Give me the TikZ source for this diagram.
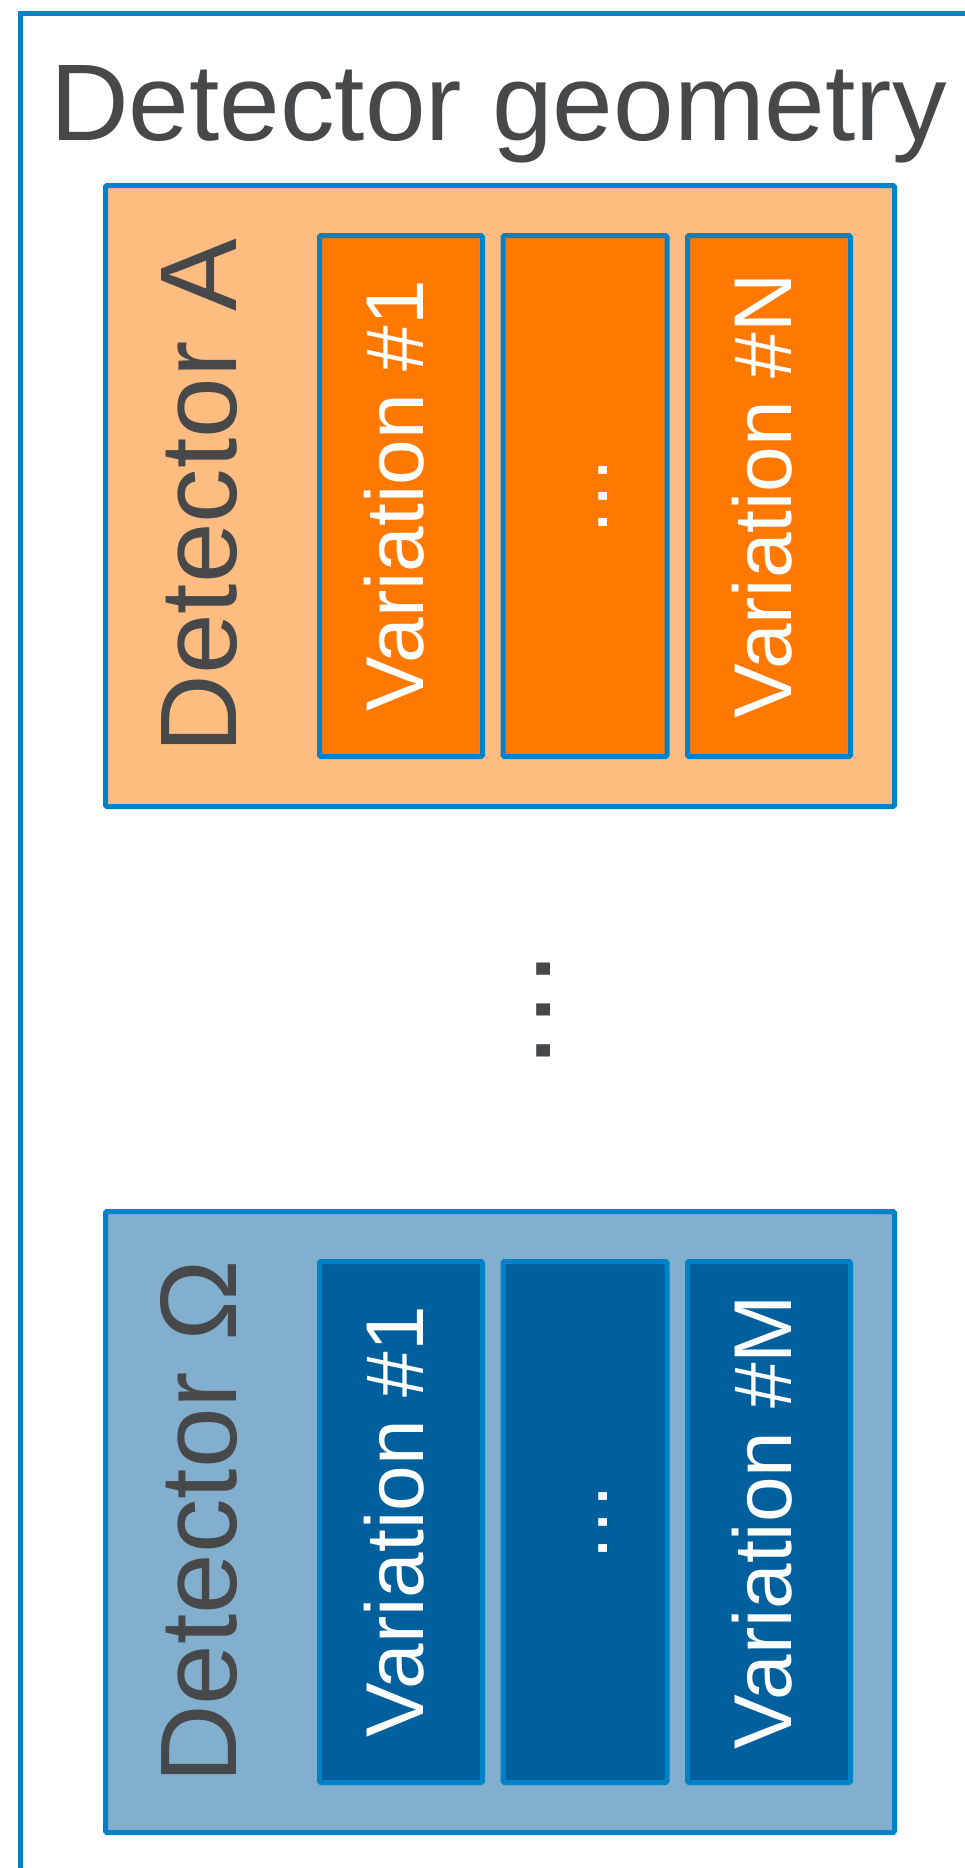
\documentclass[tikz,border=0pt]{standalone}
\usepackage{fontspec}
\setmainfont{Liberation Sans}
\definecolor{bordblue}{HTML}{0082C8}
\definecolor{peach}{HTML}{FFBC80}
\definecolor{orng}{HTML}{FF7800}
\definecolor{lightblue}{HTML}{82AFCE}
\definecolor{darkblue}{HTML}{00609E}
\definecolor{txtgray}{HTML}{47484A}
\tikzset{
  detbox/.style={draw=bordblue, line width=5pt, rounded corners=1.5pt, inner sep=0pt,
    minimum width=789pt, minimum height=621pt},
  varbox/.style={draw=bordblue, line width=5pt, rounded corners=1.5pt, inner sep=0pt,
    minimum width=163pt, minimum height=521pt},
  dettext/.style={rotate=90, anchor=base, inner sep=0pt, text=txtgray,
    font=\fontsize{109}{120}\selectfont},
  vartext/.style={rotate=90, anchor=base, inner sep=0pt, text=white,
    font=\fontsize{82}{90}\selectfont},
}
\begin{document}
\begin{tikzpicture}[x=1pt, y=-1pt]
\useasboundingbox (0,0) rectangle (965,1868);
\draw[bordblue, line width=5pt] (20.8,14) rectangle (1010,1920);
\node (title) [anchor=base west, inner sep=0pt, text=txtgray,
  font=\fontsize{109}{120}\selectfont] at (50,140) {Detector geometry};
% Detector A
\node (detA) [detbox, fill=peach] at (500,496) {};
\node (a1) [varbox, fill=orng] at (401,496) {};
\node (a2) [varbox, fill=orng, minimum width=164pt] at (585,496) {};
\node (a3) [varbox, fill=orng] at (769,496) {};
\node (detAtext) [dettext] at (236,496) {Detector A};
\node (a1text) [vartext] at (423,496) {Variation \#1};
\node (a2text) [vartext] at (607,496) {…};
\node (a3text) [vartext] at (791,496) {Variation \#N};
% middle dots
\node (middots) [rotate=90, anchor=base, inner sep=0pt, text=txtgray,
  font=\fontsize{129}{140}\selectfont] at (550,1010) {…};
% Detector Omega
\node (detO) [detbox, fill=lightblue] at (500,1522) {};
\node (o1) [varbox, fill=darkblue] at (401,1522) {};
\node (o2) [varbox, fill=darkblue, minimum width=164pt] at (585,1522) {};
\node (o3) [varbox, fill=darkblue] at (769,1522) {};
\node (detOtext) [dettext] at (236,1522) {Detector Ω};
\node (o1text) [vartext] at (423,1522) {Variation \#1};
\node (o2text) [vartext] at (607,1522) {…};
\node (o3text) [vartext] at (791,1522) {Variation \#M};
\end{tikzpicture}
\end{document}
